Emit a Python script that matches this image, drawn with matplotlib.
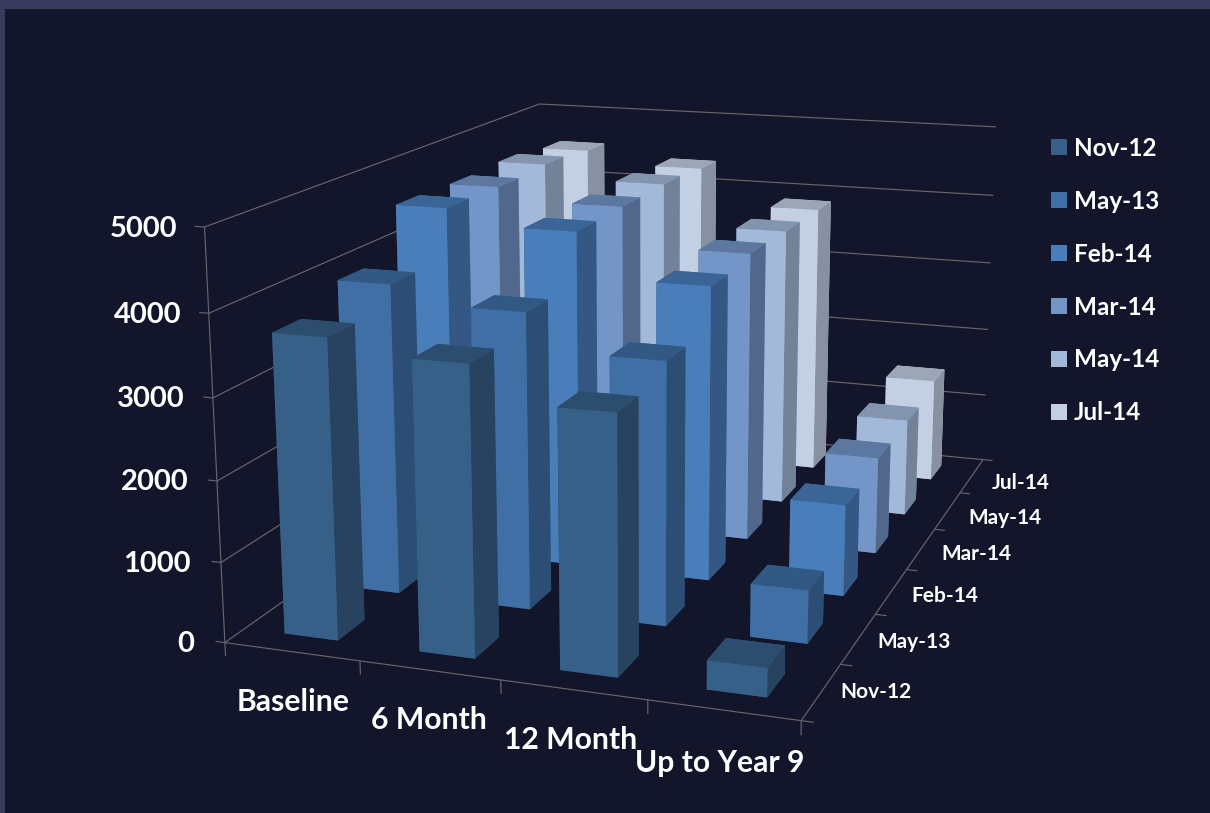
import matplotlib
matplotlib.use("Agg")
import matplotlib.pyplot as plt
from matplotlib.patches import Patch, Rectangle
from mpl_toolkits.mplot3d import Axes3D  # noqa: F401

categories = ["Baseline", "6 Month", "12 Month", "Up to Year 9"]
series_names = ["Nov-12", "May-13", "Feb-14", "Mar-14", "May-14", "Jul-14"]
z_ticks = [0, 1000, 2000, 3000, 4000, 5000]

nov_12 = [3700, 3540, 3130, 350]
may_13 = [3960, 3750, 3300, 665]
feb_14 = [4590, 4400, 3830, 1185]
mar_14 = [4570, 4410, 3900, 1300]
may_14 = [4600, 4420, 3870, 1345]
jul_14 = [4530, 4360, 3860, 1470]
values = [nov_12, may_13, feb_14, mar_14, may_14, jul_14]

front_colors = ["#376089", "#3F6FA5", "#4A7EBB", "#7395C8", "#A3B9D9", "#C3CFE3"]
BG = "#13152A"
BORDER = "#3A3A5C"
GRID = "#66666C"
TXT = "#FFFFFF"
FONT = "Lato"
W, H = 1210, 813
BAR_W, BAR_D = 0.40, 0.42


def scale(hex_color, k):
    r, g, b = matplotlib.colors.to_rgb(hex_color)
    return (r * k, g * k, b * k)


fig = plt.figure(figsize=(W / 100, H / 100), dpi=100, facecolor=BORDER)
fig.add_artist(Rectangle((5 / W, 0), 1, (H - 9) / H, transform=fig.transFigure,
                         facecolor=BG, edgecolor="none", zorder=-5))

cx, cy, A = 637, 370.5, 813
ax = fig.add_axes([(cx - A / 2) / W, (H - cy - A / 2) / H, A / W, A / H],
                  projection="3d", computed_zorder=False)
ax.patch.set_alpha(0)
ax.set_axis_off()
ax.set_xlim(0, len(categories))
ax.set_ylim(0, len(series_names))
ax.set_zlim(0, z_ticks[-1])
ax.set_proj_type("persp", focal_length=0.525)
ax.view_init(elev=14.5, azim=-71, roll=0)
ax.set_box_aspect((1.41, 2.05, 1.0), zoom=1.222)

nx, ny, zmax = len(categories), len(series_names), z_ticks[-1]
line = dict(color=GRID, lw=0.85, zorder=1, solid_capstyle="butt", clip_on=False)
for z in z_ticks:
    ax.plot([-0.07, 0, 0], [0, 0, ny], [z, z, z], **line)
    ax.plot([0, nx], [ny, ny], [z, z], **line)
ax.plot([0, 0], [0, 0], [0, zmax], **line)
ax.plot([0, nx], [0, 0], [0, 0], **line)
ax.plot([nx, nx], [0, ny], [0, 0], **line)
for i in range(nx + 1):
    ax.plot([i, i], [0, 0], [0, -170], **line)
for j in range(ny + 1):
    ax.plot([nx, nx + 0.08], [j, j], [0, 0], **line)

order = 10
for j in range(ny - 1, -1, -1):
    front = front_colors[j]
    side = scale(front, 0.70)
    top = scale(front, 0.80)
    for i in range(nx):
        ax.bar3d(i + 0.5 - BAR_W / 2, j + 0.5 - BAR_D / 2, 0, BAR_W, BAR_D, values[j][i],
                 color=[top, top, front, front, side, side], shade=False,
                 edgecolor="none", linewidth=0, zorder=order)
        order += 1


def label(x, y, s, size, ha="center"):
    fig.text(x / W, 1 - y / H, s, color=TXT, fontsize=size, fontweight="bold",
             family=FONT, ha=ha, va="center")


for z, x, y in zip(z_ticks, [194, 191, 188, 185, 181, 177], [644, 564, 482, 399, 315, 229]):
    label(x, y, str(z), 21, ha="right")
for s, x, y in zip(categories, [293, 429, 571, 720], [702, 720, 740, 763]):
    label(x, y, s, 21.7)
for s, x, y in zip(series_names, [876, 914, 945, 976, 1005, 1021],
                   [692, 642, 596, 554, 518, 483]):
    label(x, y, s, 15)

handles = [Patch(facecolor=c, edgecolor="none") for c in front_colors]
fig.legend(handles, series_names, loc="upper left", bbox_to_anchor=(1029 / W, 1 - 115 / H),
           frameon=False, ncol=1, handlelength=0.65, handleheight=0.65, handletextpad=0.3,
           labelspacing=1.23, labelcolor=TXT,
           prop=dict(family=FONT, weight="bold", size=17.5))

fig.savefig("out.png", dpi=100, facecolor=fig.get_facecolor())
